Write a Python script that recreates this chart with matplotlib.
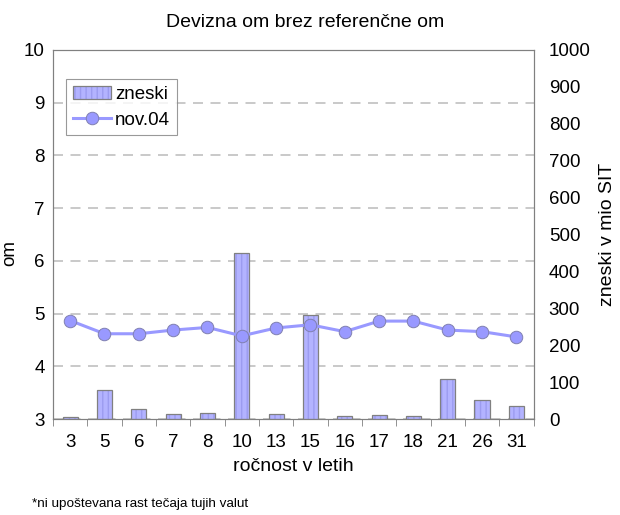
import matplotlib
matplotlib.use("Agg")
import matplotlib.pyplot as plt
import numpy as np

plt.rcParams["font.family"] = ["Liberation Sans", "DejaVu Sans"]

# data
rocnost = ["3", "5", "6", "7", "8", "10", "13", "15", "16", "17", "18", "21", "26", "31"]
zneski = [5, 79, 28, 14, 18, 451, 15, 283, 9, 11, 9, 108, 51, 35]
om_nov04 = [4.87, 4.62, 4.62, 4.69, 4.74, 4.58, 4.73, 4.79, 4.66, 4.86, 4.86, 4.69, 4.66, 4.56]

x = np.arange(len(rocnost))
gray = "#808080"
fs = 13.5

fig = plt.figure(figsize=(6.2, 5.15), dpi=100)
ax = fig.add_axes([0.0855, 0.186, 0.775, 0.717])

# left axis: grid + labels
ax.set_xlim(-0.5, len(rocnost) - 0.5)
ax.set_ylim(3, 10)
ax.set_yticks(range(3, 11))
ax.yaxis.grid(True, color="#C0C0C0", linestyle=(0, (6, 4.5)), linewidth=1.2)
ax.set_axisbelow(True)
ax.tick_params(axis="y", length=0, labelsize=fs, pad=6)
ax.set_xticks(x)
ax.set_xticklabels(rocnost)
ax.set_xticks(np.arange(len(rocnost) + 1) - 0.5, minor=True)
ax.tick_params(axis="x", which="major", length=0, labelsize=fs, pad=11)
ax.tick_params(axis="x", which="minor", length=5, color=gray, direction="out")
ax.set_ylabel("om", fontsize=fs)
ax.yaxis.set_label_coords(-0.073, 0.45)
ax.set_xlabel("ročnost v letih", fontsize=14, labelpad=5)
for s in ax.spines.values():
    s.set_color(gray)

# right axis: bars
ax2 = ax.twinx()
ax2.set_ylim(0, 1000)
ax2.set_yticks(range(0, 1001, 100))
ax2.tick_params(axis="y", length=0, labelsize=fs, pad=11)
ax2.set_ylabel("zneski v mio SIT", fontsize=14)
ax2.yaxis.set_label_coords(1.136, 0.5)
for s in ax2.spines.values():
    s.set_color(gray)
b1 = ax2.bar(x, zneski, width=0.44, color="#B3B3FF", edgecolor="#9C9CF0",
             hatch="|||", linewidth=0, zorder=2)
b2 = ax2.bar(x, zneski, width=0.44, fill=False, edgecolor=gray, linewidth=0.9, zorder=3)

# line on top
ax3 = ax.twinx()
ax3.set_ylim(3, 10)
ax3.axis("off")
ln, = ax3.plot(x, om_nov04, color="#9999FF", linewidth=2.2, marker="o",
               markersize=9, markerfacecolor="#9999FF", markeredgecolor="#8080B0",
               markeredgewidth=0.7, zorder=4)

leg = ax3.legend([(b1, b2), ln], ["zneski", "nov.04"], loc="upper left",
                 bbox_to_anchor=(0.028, 0.92), fontsize=fs, frameon=True, fancybox=False,
                 handlelength=2.0, handletextpad=0.25, borderpad=0.35, labelspacing=0.45,
                 borderaxespad=0)
leg.get_frame().set_edgecolor(gray)
leg.get_frame().set_linewidth(0.8)

fig.text(0.492, 0.957, "Devizna om brez referenčne om", ha="center", va="center", fontsize=14)
fig.text(0.052, 0.015, "*ni upoštevana rast tečaja tujih valut", fontsize=9.7)

fig.savefig("out.png", dpi=100)
